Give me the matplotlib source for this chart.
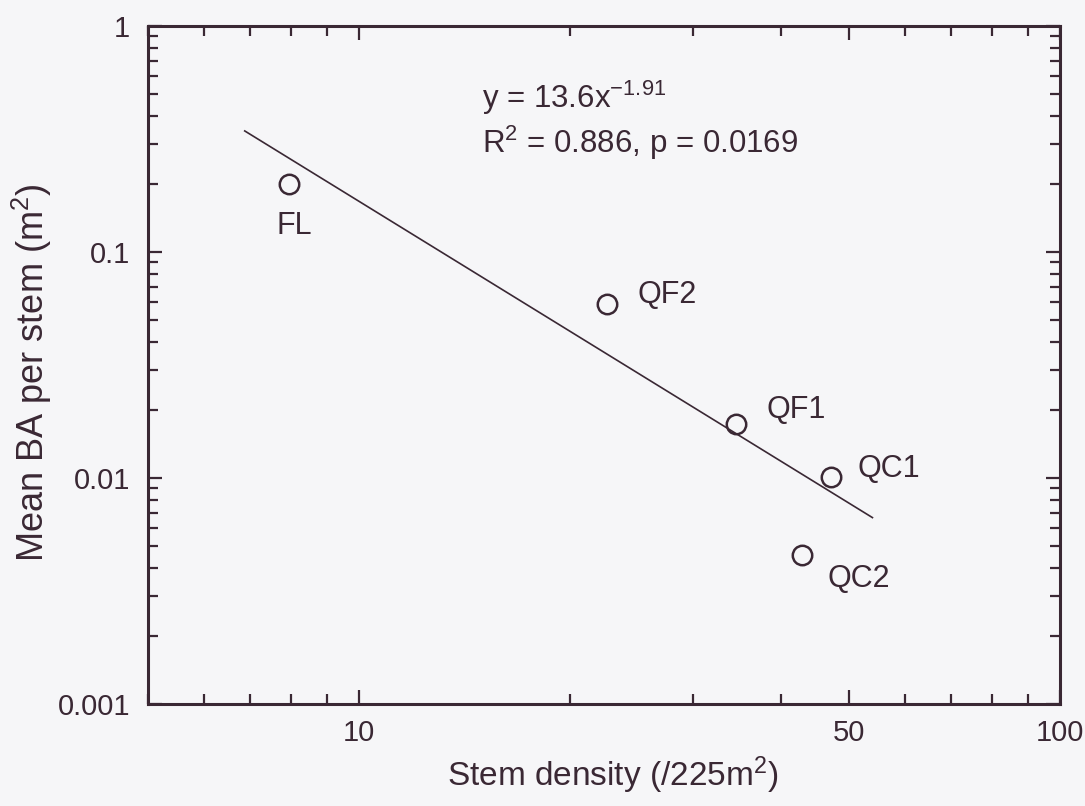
import numpy as np
import matplotlib
matplotlib.use('Agg')
import matplotlib.pyplot as plt
from matplotlib.ticker import FixedLocator, NullFormatter, LogLocator

#### data
sites = ['FL', 'QF2', 'QF1', 'QC1', 'QC2']
density = [7.94, 22.6, 34.5, 47.2, 42.9]        # stems / 225 m2
mean_ba = [0.199, 0.059, 0.0173, 0.0101, 0.00456]  # m2 per stem

# power fit y = a * x^b, drawn over this x range
fit_a = 13.6
fit_b = -1.91
fit_range = [6.87, 54.0]

x_ticks = [10, 50, 100]
x_ticklabels = ['10', '50', '100']
y_ticks = [0.001, 0.01, 0.1, 1]
y_ticklabels = ['0.001', '0.01', '0.1', '1']
####

ink = '#3a2834'
bg = '#f6f6f8'

plt.rcParams['font.family'] = ['Liberation Sans', 'DejaVu Sans']
plt.rcParams['mathtext.fontset'] = 'custom'
plt.rcParams['mathtext.rm'] = 'Liberation Sans'
plt.rcParams['mathtext.it'] = 'Liberation Sans'
plt.rcParams['mathtext.default'] = 'regular'

fig = plt.figure(figsize=(10.85, 8.06), dpi=100, facecolor=bg)
ax = fig.add_axes([0.1364, 0.1265, 0.8406, 0.8415])
ax.set_facecolor(bg)

ax.set_xscale('log')
ax.set_yscale('log')
ax.set_xlim(5, 100)
ax.set_ylim(0.001, 1)

# fitted line
xf = np.geomspace(fit_range[0], fit_range[1], 50)
ax.plot(xf, fit_a * xf ** fit_b, color=ink, lw=1.2)

# sites
ax.plot(density, mean_ba, 'o', ms=14, mfc='none', mec=ink, mew=1.8)

# label placement in points (dx, dy, ha) from each circle
offsets = {'FL': (4, -30, 'center'), 'QF2': (22, 6, 'left'), 'QF1': (22, 10, 'left'),
           'QC1': (19, 6, 'left'), 'QC2': (18, -17, 'left')}
for s, x, y in zip(sites, density, mean_ba):
    dx, dy, ha = offsets[s]
    ax.annotate(s, (x, y), xytext=(dx, dy), textcoords='offset points',
                fontsize=22, color=ink, va='center', ha=ha)

ax.text(0.366, 0.879, 'y = 13.6x$^{-1.91}$', transform=ax.transAxes,
        fontsize=22.5, color=ink, va='baseline')
ax.text(0.366, 0.813, 'R$^{2}$ = 0.886, p = 0.0169', transform=ax.transAxes,
        fontsize=22.5, color=ink, va='baseline')

ax.xaxis.set_major_locator(FixedLocator(x_ticks))
ax.set_xticklabels(x_ticklabels)
ax.xaxis.set_minor_locator(LogLocator(base=10, subs=np.arange(2, 10), numticks=20))
ax.xaxis.set_minor_formatter(NullFormatter())
ax.yaxis.set_major_locator(FixedLocator(y_ticks))
ax.set_yticklabels(y_ticklabels)
ax.yaxis.set_minor_locator(LogLocator(base=10, subs=np.arange(2, 10), numticks=20))
ax.yaxis.set_minor_formatter(NullFormatter())

ax.tick_params(which='both', direction='in', top=True, right=True, color=ink,
               labelcolor=ink, labelsize=21)
ax.tick_params(axis='y', which='major', pad=13)
ax.tick_params(axis='x', which='major', pad=11)
ax.tick_params(which='major', length=10, width=1.6)
ax.tick_params(which='minor', length=7, width=1.6)
for sp in ax.spines.values():
    sp.set_linewidth(2.2)
    sp.set_color(ink)

ax.set_xlabel('Stem density (/225m$^2$)', fontsize=24, color=ink)
ax.xaxis.set_label_coords(0.51, -0.075)
ax.set_ylabel('Mean BA per stem (m$^2$)', fontsize=26, color=ink)
ax.yaxis.set_label_coords(-0.103, 0.488)

fig.savefig('out.png', dpi=100, facecolor=bg)
